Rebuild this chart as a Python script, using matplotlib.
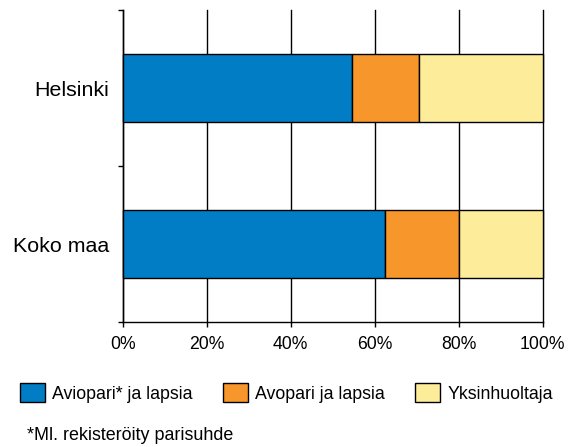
import matplotlib
matplotlib.use("Agg")
import matplotlib.pyplot as plt
from matplotlib.patches import Patch

plt.rcParams['font.family'] = ['Liberation Sans', 'DejaVu Sans']

categories = ["Koko maa", "Helsinki"]
series_names = ["Aviopari* ja lapsia", "Avopari ja lapsia", "Yksinhuoltaja"]
aviopari = [62.4, 54.5]
avopari = [17.7, 16.1]
yksinhuoltaja = [19.9, 29.4]
colors = ["#007DC5", "#F7962A", "#FDEC9A"]
xticks = [0, 20, 40, 60, 80, 100]
xticklabels = ["0%", "20%", "40%", "60%", "80%", "100%"]
footnote = "*Ml. rekisteröity parisuhde"

fig = plt.figure(figsize=(5.69, 4.47), dpi=100)
ax = fig.add_axes([123/569, 1 - 322/447, 419.5/569, 312/447])

ypos = list(range(len(categories)))
left = [0.0] * len(categories)
for vals, col in zip([aviopari, avopari, yksinhuoltaja], colors):
    ax.barh(ypos, vals, left=left, height=0.44, color=col, edgecolor="black",
            linewidth=1.0, zorder=3, clip_on=False)
    left = [l + v for l, v in zip(left, vals)]

ax.set_xlim(0, 100)
ax.set_ylim(-0.5, 1.5)
ax.set_xticks(xticks)
ax.set_xticklabels(xticklabels, fontsize=12.7)
ax.set_yticks(ypos)
ax.set_yticklabels(categories, fontsize=15.4)
ax.set_yticks([-0.5, 0.5, 1.5], minor=True)
ax.tick_params(axis='y', which='major', length=0, pad=10)
ax.tick_params(axis='y', which='minor', length=3.6, width=1.0, direction='out')
ax.tick_params(axis='x', length=3.6, width=1.0, direction='out', pad=6.5)
ax.grid(axis='x', color='black', linewidth=1.0, zorder=0)
for gl in ax.get_xgridlines():
    gl.set_clip_on(False)
for s in ['top', 'right']:
    ax.spines[s].set_visible(False)
ax.spines['left'].set_linewidth(1.0)
ax.spines['bottom'].set_linewidth(1.0)

handles = [Patch(facecolor=c, edgecolor='black', linewidth=1.0) for c in colors]
fig.legend(handles, series_names, loc='center', bbox_to_anchor=(286.5/569, 1 - 393/447),
           ncol=3, frameon=False, fontsize=12.8, handlelength=1.4, handleheight=1.25,
           handletextpad=0.4, columnspacing=1.7, borderpad=0, borderaxespad=0)
fig.text(27/569, 1 - 436/447, footnote, fontsize=12.9, va='center', ha='left')

fig.savefig("out.png", dpi=100)
